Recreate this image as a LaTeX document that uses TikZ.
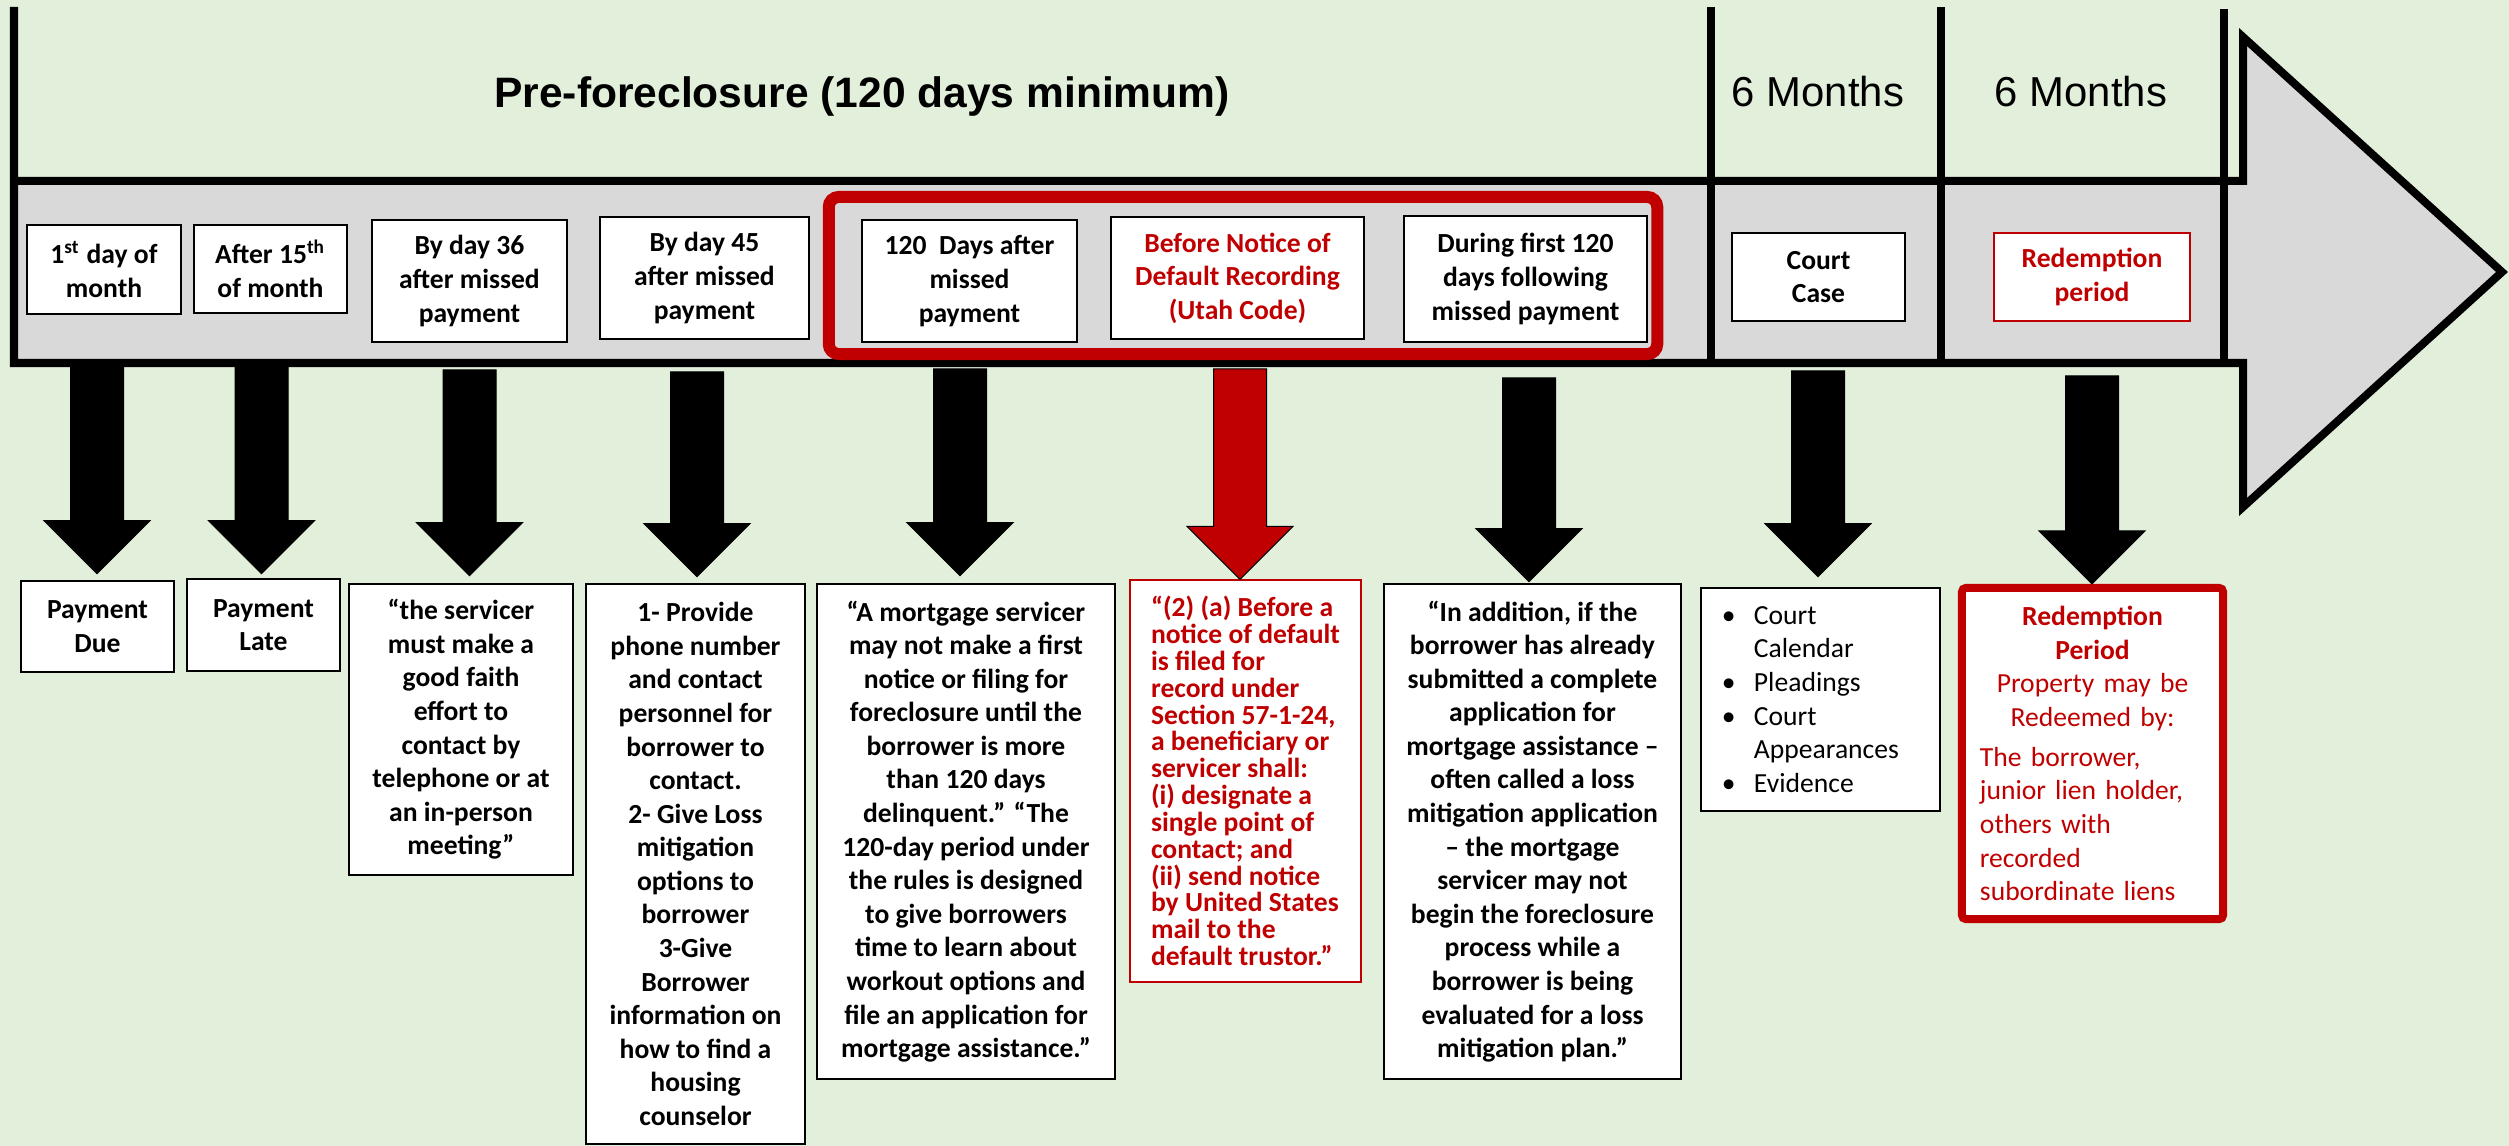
\documentclass[tikz,border=0pt]{standalone}
\usepackage{fontspec}
\setmainfont{Carlito}
\newfontfamily\headfont{Liberation Sans}
\usetikzlibrary{calc}

\definecolor{bgcol}{HTML}{E2EFDA}
\definecolor{bandgray}{HTML}{D9D9D9}
\definecolor{darkred}{HTML}{C00000}

% text sizes used in the boxes
\newcommand\boxtext{\fontsize{7.85pt}{9.55pt}\selectfont}
\newcommand\tighttext{\fontsize{7.85pt}{7.63pt}\selectfont}

% downward block arrow: #1 fill, #2 start coordinate, #3 target node, #4 gap above target
\newcommand\blockarrow[4]{%
  \coordinate (tip-#2) at ($(#2 |- #3.north)+(0,-#4)$);
  \filldraw[fill=#1, draw=black, line width=0.01cm]
    ($(#2)+(-26.5,0)$) -- ($(#2)+(26.5,0)$) -- ($(tip-#2)+(26.5,-53)$)
    -- ($(tip-#2)+(53,-53)$) -- (tip-#2) -- ($(tip-#2)+(-53,-53)$)
    -- ($(tip-#2)+(-26.5,-53)$) -- cycle;}

\lineskiplimit=-20pt

\begin{document}
\begin{tikzpicture}[x=0.01cm, y=-0.01cm,
  stage/.style={draw=black, line width=0.025cm, fill=white, inner sep=0pt,
                align=center, font=\boxtext\bfseries},
  redstage/.style={stage, draw=darkred, text=darkred},
  note/.style={draw=black, line width=0.025cm, fill=white, inner sep=0pt,
               align=center, font=\boxtext\bfseries},
  rule/.style={draw=black, line width=0.08cm},
  heading/.style={font=\headfont\bfseries\fontsize{12.1pt}{14pt}\selectfont, anchor=base},
  period/.style={font=\headfont\fontsize{11.9pt}{14pt}\selectfont, anchor=base}]

\useasboundingbox (0,0) rectangle (2509,1146);
\fill[bgcol] (0,0) rectangle (2509,1146);

% timeline shaft and head
\fill[bandgray] (14,181) rectangle (2243,363);
\fill[bandgray] (2243,37) -- (2502,272) -- (2243,507) -- cycle;
\draw[rule, line join=miter, miter limit=10]
  (14,7) -- (14,363) -- (2243,363) -- (2243,507) -- (2502,272)
  -- (2243,37) -- (2243,181) -- (14,181);
\draw[rule] (1711,7) -- (1711,363);
\draw[rule] (1941,7) -- (1941,363);
\draw[rule] (2224,9) -- (2224,363);

% period headings
\node[heading] (pre) at (862,108) {Pre-foreclosure (120 days minimum)};
\node[period] (m1) at (1818,107) {6 Months};
\node[period] (m2) at (2081,107) {6 Months};

% stages on the timeline
\node[stage, minimum width=1.54cm, minimum height=0.89cm] (b1) at (104,269.5) {1\textsuperscript{st} day of\\month};
\node[stage, minimum width=1.53cm, minimum height=0.88cm] (b2) at (270.5,269) {After 15\textsuperscript{th}\\of month};
\node[stage, minimum width=1.95cm, minimum height=1.22cm] (b3) at (469.5,281) {By day 36\\after missed\\payment};
\node[stage, minimum width=2.09cm, minimum height=1.22cm] (b4) at (704.5,278) {By day 45\\after missed\\payment};
\node[stage, minimum width=2.15cm, minimum height=1.22cm] (b5) at (969.5,281) {120\ \ Days after\\missed\\payment};
\node[stage, text=darkred, minimum width=2.53cm, minimum height=1.22cm] (b6) at (1237.5,278) {Before Notice of\\Default Recording\\(Utah Code)};
\node[stage, minimum width=2.43cm, minimum height=1.26cm] (b7) at (1525.5,279) {During first 120\\days following\\missed payment};
\node[stage, minimum width=1.73cm, minimum height=0.88cm] (b8) at (1818.5,277) {Court\\Case};
\node[redstage, minimum width=1.96cm, minimum height=0.88cm] (b9) at (2092,277) {Redemption\\period};

% frame around the 120-day stages
\node[draw=darkred, line width=0.12cm, rounded corners=0.1cm, inner sep=0pt,
      minimum width=8.28cm, minimum height=1.57cm] (frame) at (1243,275.5) {};

% details below the timeline
\node[note, minimum width=1.53cm, minimum height=0.91cm] (d1) at (97.5,626.5) {Payment\\Due};
\node[note, minimum width=1.53cm, minimum height=0.92cm] (d2) at (263.5,625) {Payment\\Late};
\node[note, minimum width=2.24cm, minimum height=2.91cm] (d3) at (461,729.5)
  {“the servicer\\must make a\\good faith\\effort to\\contact by\\telephone or at\\an in-person\\meeting”};
\node[note, minimum width=2.19cm, minimum height=5.60cm] (d4) at (695.5,864)
  {1- Provide\\phone number\\and contact\\personnel for\\borrower to\\contact.\\2- Give Loss\\mitigation\\options to\\borrower\\3-Give\\Borrower\\information on\\how to find a\\housing\\counselor};
\node[note, minimum width=2.98cm, minimum height=4.95cm] (d5) at (966,831.5)
  {“A mortgage servicer\\may not make a first\\notice or filing for\\foreclosure until the\\borrower is more\\than 120 days\\delinquent.” “The\\120-day period under\\the rules is designed\\to give borrowers\\time to learn about\\workout options and\\file an application for\\mortgage assistance.”};
\node[draw=darkred, line width=0.02cm, fill=white, inner sep=0pt, align=left,
      text=darkred, font=\tighttext\bfseries,
      minimum width=2.31cm, minimum height=4.01cm] (d6) at (1245.5,781)
  {“(2) (a) Before a\\notice of default\\is filed for\\record under\\Section 57-1-24,\\a beneficiary or\\servicer shall:\\(i) designate a\\single point of\\contact; and\\(ii) send notice\\by United States\\mail to the\\default trustor.”};
\node[note, minimum width=2.97cm, minimum height=4.95cm] (d7) at (1532.5,831.5)
  {“In addition, if the\\borrower has already\\submitted a complete\\application for\\mortgage assistance –\\often called a loss\\mitigation application\\– the mortgage\\servicer may not\\begin the foreclosure\\process while a\\borrower is being\\evaluated for a loss\\mitigation plan.”};
\node[draw=black, line width=0.025cm, fill=white, inner sep=0pt, inner xsep=0.21cm,
      text width=1.97cm, minimum height=2.23cm, align=left, font=\boxtext] (d8) at (1820.5,699.5)
  {\makebox[0.32cm][l]{\textbullet}Court\\\hspace*{0.32cm}Calendar\\
   \makebox[0.32cm][l]{\textbullet}Pleadings\\
   \makebox[0.32cm][l]{\textbullet}Court\\\hspace*{0.32cm}Appearances\\
   \makebox[0.32cm][l]{\textbullet}Evidence};
\node[draw=darkred, line width=0.08cm, rounded corners=0.04cm, fill=white, inner sep=0pt,
      inner xsep=0.18cm, text width=2.25cm, minimum height=3.31cm, align=left,
      text=darkred, font=\boxtext] (d9) at (2092.5,753.5)
  {\makebox[2.25cm]{\bfseries Redemption}\\\makebox[2.25cm]{\bfseries Period}\\
   \makebox[2.25cm]{Property may be}\\\makebox[2.25cm]{Redeemed by:}\\[0.065cm]
   The borrower,\\junior lien holder,\\others with\\recorded\\subordinate liens};

% connectors from the timeline to the details
\coordinate (s1) at (97,367);
\coordinate (s2) at (261.5,367);
\coordinate (s3) at (469.5,370);
\coordinate (s4) at (697,372);
\coordinate (s5) at (960,369);
\coordinate (s6) at (1240,369);
\coordinate (s7) at (1529,378);
\coordinate (s8) at (1818,371);
\coordinate (s9) at (2092,376);
\blockarrow{black}{s1}{d1}{6}
\blockarrow{black}{s2}{d2}{4}
\blockarrow{black}{s3}{d3}{7}
\blockarrow{black}{s4}{d4}{6}
\blockarrow{black}{s5}{d5}{7}
\blockarrow{darkred}{s6}{d6}{0}
\blockarrow{black}{s7}{d7}{1}
\blockarrow{black}{s8}{d8}{10}
\blockarrow{black}{s9}{d9}{0}
\end{tikzpicture}
\end{document}
